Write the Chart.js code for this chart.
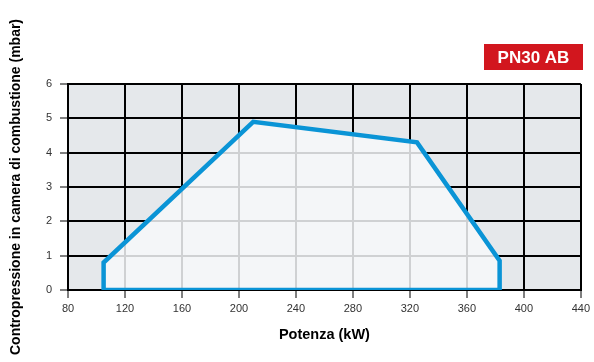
<!DOCTYPE html>
<html>
<head>
<meta charset="utf-8">
<script src="https://cdn.jsdelivr.net/npm/chart.js@4/dist/chart.umd.min.js"></script>
<style>
html,body{margin:0;padding:0;background:#fff;}
#wrap{position:relative;width:594px;height:362px;}
</style>
</head>
<body>
<div id="wrap"><canvas id="c" width="594" height="362"></canvas></div>
<script>
// Data
const potenzaKW = [105, 105, 210, 325, 383, 383, 105];
const contropressione = [0, 0.8, 4.9, 4.3, 0.85, 0, 0];
const xTicks = [80, 120, 160, 200, 240, 280, 320, 360, 400, 440];
const yTicks = [0, 1, 2, 3, 4, 5, 6];
const badgeLabel = 'PN30 AB';
const xTitle = 'Potenza (kW)';
const yTitle = 'Contropressione in camera di combustione (mbar)';

const points = potenzaKW.map((x, i) => ({x: x, y: contropressione[i]}));

const BG = '#e5e8eb';
const INNER = '#f4f6f8';
const BLUE = '#0a94d6';
const FONT = '"Liberation Sans", Arial, sans-serif';

const plugin = {
  id: 'custom',
  beforeDraw(chart) {
    const {ctx, chartArea: a} = chart;
    ctx.save();
    ctx.fillStyle = '#fff';
    ctx.fillRect(0, 0, chart.width, chart.height);
    ctx.fillStyle = BG;
    ctx.fillRect(a.left, a.top, a.right - a.left, a.bottom - a.top);
    // badge
    ctx.fillStyle = '#d2161e';
    ctx.fillRect(484, 44, 99, 26);
    ctx.fillStyle = '#fff';
    ctx.font = 'bold 17px ' + FONT;
    ctx.textAlign = 'center';
    ctx.textBaseline = 'middle';
    ctx.fillText(badgeLabel, 533.5, 58);
    ctx.restore();
  },
  beforeDatasetsDraw(chart) {
    const {ctx, chartArea: a, scales} = chart;
    const xs = scales.x, ys = scales.y;
    ctx.save();
    ctx.beginPath();
    points.forEach((p, i) => {
      const px = xs.getPixelForValue(p.x), py = ys.getPixelForValue(p.y);
      if (i === 0) ctx.moveTo(px, py); else ctx.lineTo(px, py);
    });
    ctx.closePath();
    ctx.fillStyle = INNER;
    ctx.fill();
    ctx.clip();
    ctx.strokeStyle = '#cfd1d3';
    ctx.lineWidth = 2;
    xTicks.forEach(v => {
      const px = Math.round(xs.getPixelForValue(v));
      ctx.beginPath(); ctx.moveTo(px, a.top); ctx.lineTo(px, a.bottom); ctx.stroke();
    });
    yTicks.forEach(v => {
      const py = Math.round(ys.getPixelForValue(v));
      ctx.beginPath(); ctx.moveTo(a.left, py); ctx.lineTo(a.right, py); ctx.stroke();
    });
    ctx.restore();
  }
};

new Chart(document.getElementById('c'), {
  type: 'scatter',
  data: {
    datasets: [
      {
        data: points,
        showLine: true,
        borderWidth: 4.5,
        borderColor: BLUE,
        borderJoinStyle: 'miter',
        fill: false,
        pointRadius: 0
      }
    ]
  },
  plugins: [plugin],
  options: {
    responsive: false,
    animation: false,
    devicePixelRatio: 1,
    layout: {padding: {top: 84, right: 11, left: 8, bottom: 18}},
    plugins: {legend: {display: false}, tooltip: {enabled: false}},
    scales: {
      x: {
        type: 'linear',
        min: 80, max: 440,
        afterBuildTicks: s => { s.ticks = xTicks.map(v => ({value: v})); },
        afterFit: s => { s.height = 54; },
        grid: {color: '#000', lineWidth: 2, tickLength: 8, tickColor: '#000', tickWidth: 1},
        border: {display: true, color: '#000', width: 2},
        ticks: {color: '#333', font: {family: FONT, size: 11}, padding: 4, maxRotation: 0},
        title: {display: true, text: xTitle, color: '#000', font: {family: FONT, size: 14.5, weight: 'bold'}, padding: {top: 0, bottom: 0}}
      },
      y: {
        type: 'linear',
        min: 0, max: 6,
        afterBuildTicks: s => { s.ticks = yTicks.map(v => ({value: v})); },
        afterFit: s => { s.width = 60; },
        grid: {color: '#000', lineWidth: 2, tickLength: 8, tickColor: '#000', tickWidth: 1},
        border: {display: true, color: '#000', width: 2},
        ticks: {color: '#333', font: {family: FONT, size: 11}, padding: 8},
        title: {display: true, text: yTitle, color: '#000', font: {family: FONT, size: 14, weight: 'bold'}, padding: {top: 0, bottom: 0}}
      }
    }
  }
});
</script>
</body>
</html>
